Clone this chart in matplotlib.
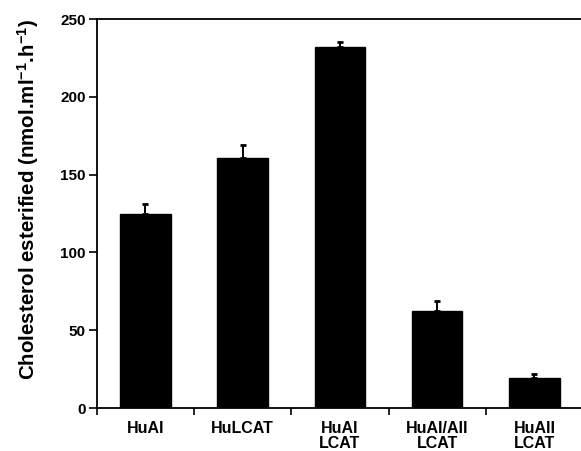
import matplotlib
matplotlib.use('Agg')
import matplotlib.pyplot as plt
import numpy as np

plt.rcParams['font.family'] = ['Liberation Sans', 'DejaVu Sans']
plt.rcParams['mathtext.fontset'] = 'custom'
plt.rcParams['mathtext.rm'] = 'Liberation Sans:bold'
plt.rcParams['mathtext.default'] = 'rm'

# data
categories = ['HuAI', 'HuLCAT', 'HuAI\nLCAT', 'HuAI/AII\nLCAT', 'HuAII\nLCAT']
values = [125, 161, 232, 62.5, 19.3]
errors = [6, 8, 3, 6.3, 2.7]

fig = plt.figure(figsize=(5.81, 4.51), dpi=100)
ax = fig.add_axes([0.1665, 0.0953, 0.837, 0.8625])

x = np.arange(len(categories))
ax.bar(x, values, width=0.52, color='black', edgecolor='black')
ax.errorbar(x, values, yerr=[np.zeros(len(errors)), errors], fmt='none',
            ecolor='black', elinewidth=1.4, capsize=2.2, capthick=2)

ax.set_xlim(-0.5, 4.5)
ax.set_ylim(0, 250)
ax.set_yticks([0, 50, 100, 150, 200, 250])
ax.tick_params(axis='y', direction='out', length=6, width=1.2, labelsize=11, pad=2)
for lab in ax.get_yticklabels():
    lab.set_fontweight('bold')

# ticks at category boundaries, labels at centres
ax.set_xticks(np.arange(-0.5, 4.6, 1.0))
ax.set_xticklabels([])
ax.tick_params(axis='x', which='major', direction='out', length=5, width=1.2)
ax.set_xticks(x, minor=True)
ax.set_xticklabels(categories, minor=True, fontsize=11.5, fontweight='bold',
                   linespacing=1.0, va='top')
ax.tick_params(axis='x', which='minor', length=0, pad=9)

ax.spines['right'].set_visible(False)
for s in ['left', 'bottom', 'top']:
    ax.spines[s].set_linewidth(1.3)

# y label sits a little above the axes centre in the reference
fig.text(28 / 581, 1 - 200 / 451,
         r'Cholesterol esterified (nmol.ml$^{-1}$.h$^{-1}$)',
         rotation=90, ha='center', va='center', fontsize=14.8, fontweight='bold')

fig.savefig('out.png', dpi=100)
